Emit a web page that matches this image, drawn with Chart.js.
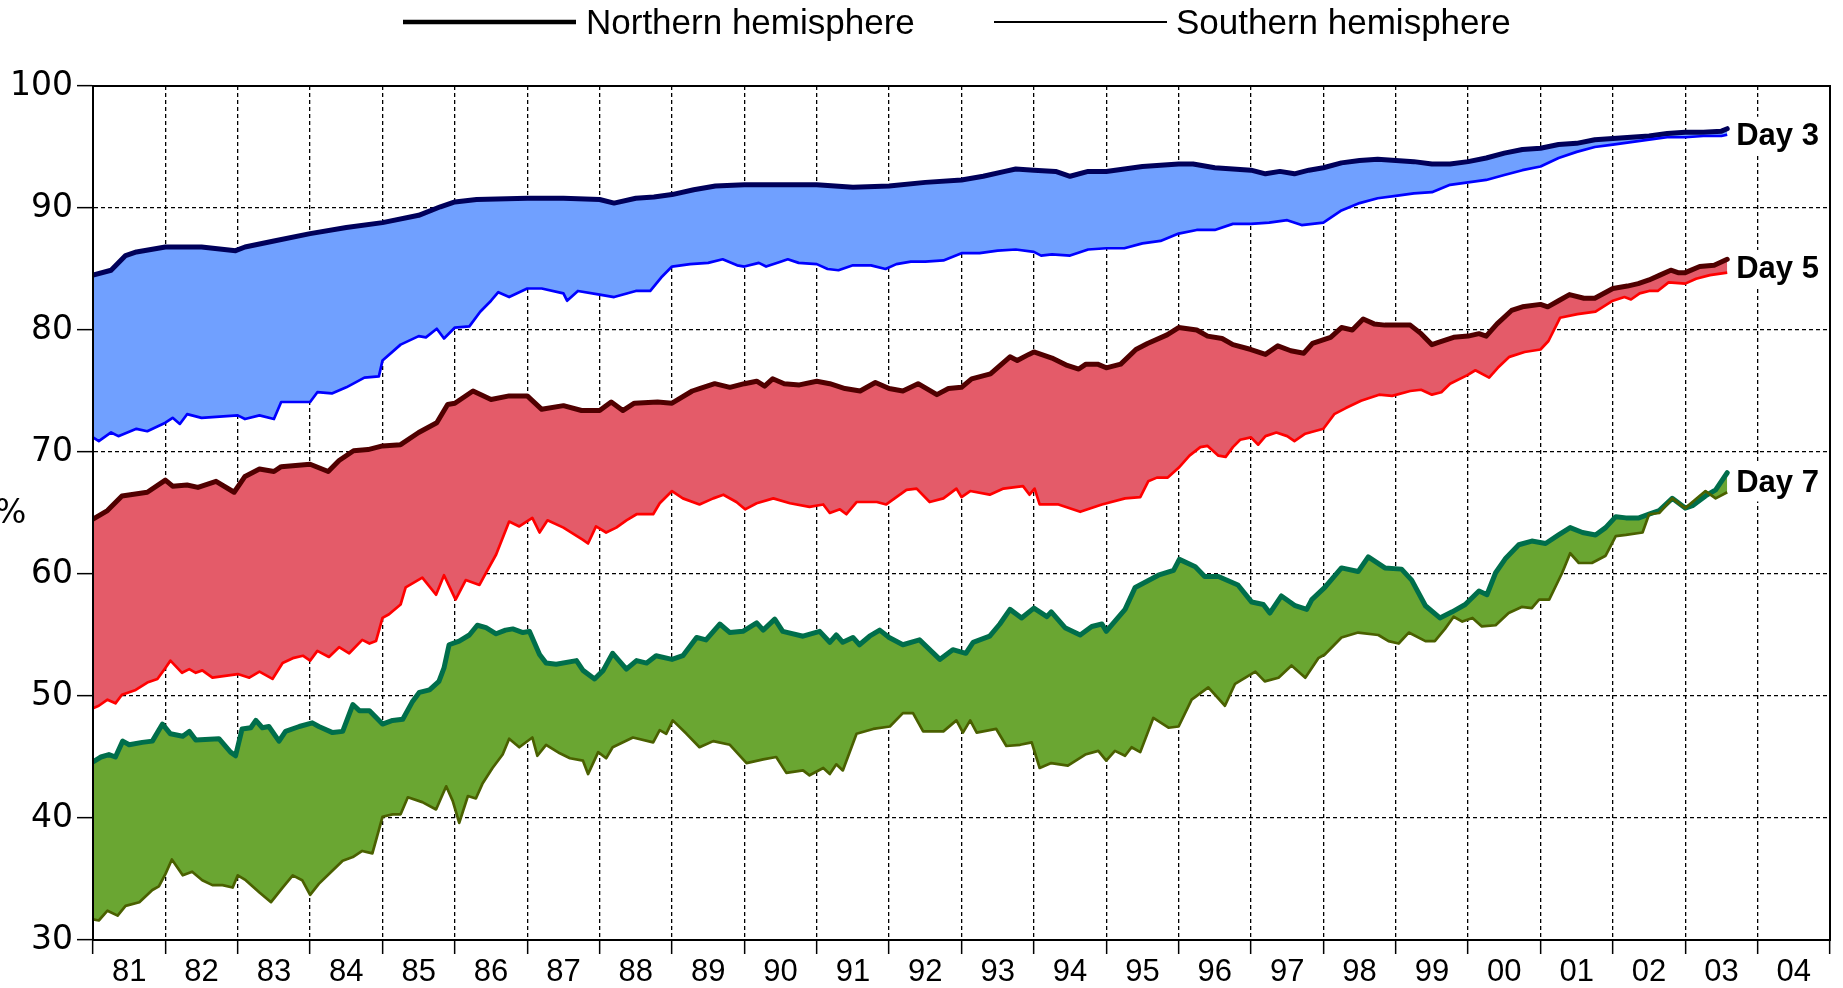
<!DOCTYPE html>
<html>
<head>
<meta charset="utf-8">
<script src="https://cdn.jsdelivr.net/npm/chart.js@4.4.1/dist/chart.umd.min.js"></script>
<style>
  html, body { margin: 0; padding: 0; background: #ffffff; overflow: hidden; }
  #wrap { position: relative; width: 1843px; height: 988px; }
</style>
</head>
<body>
<div id="wrap"><canvas id="c"></canvas></div>
<script>
// ---- data: [year (decimal), anomaly correlation %] ----
const xTickLabels = ['81','82','83','84','85','86','87','88','89','90','91','92','93','94','95','96','97','98','99','00','01','02','03','04'];
const yTicks = [30, 40, 50, 60, 70, 80, 90, 100];
const legendNames = ['Northern hemisphere', 'Southern hemisphere'];
const bandNames = ['Day 3', 'Day 5', 'Day 7'];

const day3North = [[1981.0,84.5],[1981.25,84.9],[1981.45,86.1],[1981.6,86.4],[1982.0,86.8],[1982.5,86.8],[1982.97,86.5],[1983.1,86.8],[1983.5,87.3],[1984.0,87.9],[1984.5,88.4],[1985.0,88.8],[1985.5,89.4],[1985.8,90.1],[1986.0,90.5],[1986.3,90.7],[1987.0,90.8],[1987.5,90.8],[1988.0,90.7],[1988.2,90.4],[1988.5,90.8],[1988.75,90.9],[1989.0,91.1],[1989.3,91.5],[1989.6,91.8],[1990.0,91.9],[1990.5,91.9],[1991.0,91.9],[1991.5,91.7],[1992.0,91.8],[1992.5,92.1],[1993.0,92.3],[1993.3,92.6],[1993.6,93.0],[1993.75,93.2],[1994.0,93.1],[1994.3,93.0],[1994.5,92.6],[1994.75,93.0],[1995.0,93.0],[1995.5,93.4],[1996.0,93.6],[1996.2,93.6],[1996.5,93.3],[1996.75,93.2],[1997.0,93.1],[1997.2,92.8],[1997.4,93.0],[1997.6,92.8],[1997.8,93.1],[1998.0,93.3],[1998.25,93.7],[1998.5,93.9],[1998.75,94.0],[1999.0,93.9],[1999.25,93.8],[1999.5,93.6],[1999.75,93.6],[2000.0,93.8],[2000.25,94.1],[2000.5,94.5],[2000.75,94.8],[2001.0,94.9],[2001.25,95.2],[2001.5,95.3],[2001.75,95.6],[2002.0,95.7],[2002.25,95.8],[2002.5,95.9],[2002.75,96.1],[2003.0,96.2],[2003.25,96.2],[2003.5,96.3],[2003.58,96.5]];

const day3South = [[1981.0,71.2],[1981.08,70.9],[1981.25,71.6],[1981.35,71.3],[1981.6,71.9],[1981.75,71.7],[1982.0,72.4],[1982.1,72.8],[1982.2,72.3],[1982.3,73.1],[1982.5,72.8],[1983.0,73.0],[1983.1,72.7],[1983.3,73.0],[1983.5,72.7],[1983.6,74.1],[1984.0,74.1],[1984.1,74.9],[1984.3,74.8],[1984.5,75.3],[1984.75,76.1],[1984.95,76.2],[1985.0,77.5],[1985.25,78.8],[1985.5,79.5],[1985.6,79.4],[1985.75,80.1],[1985.85,79.3],[1986.0,80.2],[1986.2,80.3],[1986.35,81.5],[1986.5,82.4],[1986.6,83.1],[1986.75,82.7],[1987.0,83.4],[1987.2,83.4],[1987.5,83.0],[1987.55,82.4],[1987.7,83.2],[1988.0,82.9],[1988.2,82.7],[1988.5,83.2],[1988.7,83.2],[1988.85,84.3],[1989.0,85.2],[1989.25,85.4],[1989.5,85.5],[1989.7,85.8],[1989.9,85.3],[1990.0,85.2],[1990.2,85.5],[1990.3,85.2],[1990.5,85.6],[1990.6,85.8],[1990.75,85.5],[1991.0,85.4],[1991.15,85.0],[1991.3,84.9],[1991.5,85.3],[1991.75,85.3],[1991.95,85.0],[1992.1,85.4],[1992.3,85.6],[1992.5,85.6],[1992.75,85.7],[1993.0,86.3],[1993.25,86.3],[1993.5,86.5],[1993.75,86.6],[1994.0,86.4],[1994.1,86.1],[1994.25,86.2],[1994.5,86.1],[1994.75,86.6],[1995.0,86.7],[1995.25,86.7],[1995.5,87.1],[1995.75,87.3],[1996.0,87.9],[1996.25,88.2],[1996.5,88.2],[1996.75,88.7],[1997.0,88.7],[1997.25,88.8],[1997.5,89.0],[1997.7,88.6],[1998.0,88.8],[1998.25,89.8],[1998.5,90.4],[1998.75,90.8],[1999.0,91.0],[1999.25,91.2],[1999.5,91.3],[1999.75,91.9],[2000.0,92.1],[2000.25,92.3],[2000.5,92.7],[2000.75,93.1],[2001.0,93.4],[2001.25,94.1],[2001.5,94.6],[2001.75,95.0],[2002.0,95.2],[2002.25,95.4],[2002.5,95.6],[2002.75,95.8],[2003.0,95.8],[2003.25,95.9],[2003.5,95.9],[2003.58,96.0]];

const day5North = [[1981.0,64.5],[1981.2,65.2],[1981.4,66.4],[1981.75,66.7],[1982.0,67.7],[1982.1,67.2],[1982.3,67.3],[1982.45,67.1],[1982.7,67.6],[1982.95,66.7],[1983.1,68.0],[1983.3,68.6],[1983.5,68.4],[1983.6,68.8],[1984.0,69.0],[1984.25,68.4],[1984.4,69.3],[1984.6,70.1],[1984.8,70.2],[1985.0,70.5],[1985.25,70.6],[1985.5,71.6],[1985.75,72.4],[1985.9,73.9],[1986.0,74.0],[1986.25,75.0],[1986.5,74.3],[1986.75,74.6],[1987.0,74.6],[1987.2,73.5],[1987.5,73.8],[1987.75,73.4],[1988.0,73.4],[1988.16,74.1],[1988.32,73.4],[1988.48,74.0],[1988.8,74.1],[1989.0,74.0],[1989.28,75.0],[1989.38,75.2],[1989.59,75.6],[1989.8,75.3],[1990.0,75.6],[1990.17,75.8],[1990.28,75.4],[1990.39,76.0],[1990.55,75.6],[1990.76,75.5],[1991.0,75.8],[1991.18,75.6],[1991.39,75.2],[1991.6,75.0],[1991.81,75.7],[1992.0,75.2],[1992.19,75.0],[1992.4,75.6],[1992.66,74.7],[1992.82,75.2],[1993.0,75.3],[1993.14,76.0],[1993.4,76.4],[1993.67,77.8],[1993.77,77.5],[1993.93,78.0],[1994.0,78.2],[1994.25,77.7],[1994.46,77.1],[1994.62,76.8],[1994.72,77.2],[1994.88,77.2],[1995.0,76.9],[1995.2,77.2],[1995.41,78.4],[1995.57,78.9],[1995.84,79.6],[1996.0,80.2],[1996.25,80.0],[1996.4,79.5],[1996.6,79.3],[1996.75,78.8],[1997.0,78.4],[1997.2,78.0],[1997.37,78.7],[1997.55,78.3],[1997.73,78.1],[1997.85,78.9],[1998.1,79.4],[1998.25,80.2],[1998.4,80.0],[1998.55,80.9],[1998.7,80.5],[1998.85,80.4],[1999.0,80.4],[1999.2,80.4],[1999.35,79.7],[1999.5,78.8],[1999.6,79.0],[1999.8,79.4],[2000.0,79.5],[2000.15,79.7],[2000.25,79.5],[2000.4,80.5],[2000.6,81.6],[2000.75,81.9],[2001.0,82.1],[2001.1,81.9],[2001.25,82.4],[2001.4,82.9],[2001.6,82.6],[2001.75,82.6],[2002.0,83.4],[2002.2,83.6],[2002.35,83.8],[2002.5,84.1],[2002.65,84.5],[2002.8,84.9],[2002.9,84.7],[2003.0,84.7],[2003.2,85.2],[2003.4,85.3],[2003.58,85.8]];

const day5South = [[1981.0,49.0],[1981.08,49.2],[1981.2,49.7],[1981.31,49.4],[1981.4,50.1],[1981.59,50.5],[1981.75,51.1],[1981.89,51.4],[1982.0,52.3],[1982.07,52.9],[1982.23,51.9],[1982.33,52.2],[1982.42,51.9],[1982.51,52.1],[1982.65,51.5],[1983.0,51.8],[1983.16,51.5],[1983.3,52.0],[1983.48,51.4],[1983.62,52.7],[1983.76,53.1],[1983.9,53.3],[1984.0,52.9],[1984.1,53.7],[1984.26,53.2],[1984.4,54.0],[1984.54,53.5],[1984.72,54.6],[1984.82,54.3],[1984.91,54.5],[1985.0,56.4],[1985.09,56.7],[1985.25,57.5],[1985.32,58.9],[1985.55,59.7],[1985.74,58.3],[1985.85,59.9],[1986.01,57.9],[1986.15,59.5],[1986.34,59.1],[1986.43,60.1],[1986.57,61.6],[1986.75,64.3],[1986.89,63.9],[1987.07,64.6],[1987.17,63.4],[1987.28,64.4],[1987.5,63.8],[1987.77,62.8],[1987.84,62.5],[1987.95,63.9],[1988.09,63.4],[1988.23,63.8],[1988.37,64.4],[1988.51,64.9],[1988.74,64.9],[1988.83,65.8],[1989.0,66.8],[1989.15,66.2],[1989.38,65.7],[1989.57,66.2],[1989.71,66.5],[1989.89,65.9],[1990.01,65.3],[1990.17,65.8],[1990.4,66.2],[1990.63,65.8],[1990.9,65.5],[1991.09,65.7],[1991.18,65.0],[1991.32,65.3],[1991.41,64.9],[1991.55,65.9],[1991.83,65.9],[1991.96,65.7],[1992.24,66.9],[1992.38,67.0],[1992.56,65.9],[1992.75,66.2],[1992.93,67.0],[1993.0,66.3],[1993.12,66.8],[1993.39,66.5],[1993.58,67.0],[1993.85,67.2],[1993.94,66.5],[1994.01,67.0],[1994.08,65.7],[1994.34,65.7],[1994.64,65.1],[1994.94,65.7],[1995.26,66.2],[1995.47,66.3],[1995.58,67.6],[1995.7,67.9],[1995.85,67.9],[1996.0,68.7],[1996.15,69.7],[1996.3,70.4],[1996.4,70.5],[1996.55,69.7],[1996.65,69.6],[1996.75,70.4],[1996.85,71.0],[1997.0,71.2],[1997.1,70.6],[1997.2,71.3],[1997.35,71.6],[1997.5,71.3],[1997.6,70.9],[1997.75,71.5],[1998.0,71.9],[1998.15,73.1],[1998.31,73.6],[1998.52,74.2],[1998.77,74.7],[1998.95,74.6],[1999.2,75.0],[1999.35,75.1],[1999.5,74.7],[1999.63,74.9],[1999.75,75.6],[1999.99,76.3],[2000.1,76.7],[2000.29,76.1],[2000.41,76.9],[2000.57,77.8],[2000.78,78.2],[2001.0,78.4],[2001.11,79.1],[2001.27,81.0],[2001.51,81.3],[2001.76,81.5],[2002.0,82.4],[2002.16,82.7],[2002.25,82.5],[2002.37,83.0],[2002.5,83.2],[2002.62,83.2],[2002.77,83.9],[2003.0,83.8],[2003.15,84.2],[2003.34,84.5],[2003.58,84.7]];

const day7North = [[1981.0,44.6],[1981.11,45.0],[1981.22,45.2],[1981.31,45.0],[1981.41,46.3],[1981.5,46.0],[1981.68,46.2],[1981.82,46.3],[1981.96,47.7],[1982.07,46.9],[1982.24,46.7],[1982.33,47.1],[1982.42,46.4],[1982.74,46.5],[1982.9,45.4],[1982.97,45.1],[1983.06,47.3],[1983.18,47.4],[1983.25,48.0],[1983.34,47.4],[1983.43,47.5],[1983.57,46.3],[1983.66,47.1],[1983.85,47.5],[1984.03,47.8],[1984.12,47.5],[1984.31,47.0],[1984.45,47.1],[1984.59,49.3],[1984.68,48.8],[1984.82,48.8],[1985.0,47.7],[1985.14,48.0],[1985.28,48.1],[1985.41,49.5],[1985.51,50.3],[1985.65,50.5],[1985.78,51.2],[1985.85,52.3],[1985.92,54.2],[1986.06,54.5],[1986.2,55.0],[1986.31,55.8],[1986.43,55.6],[1986.57,55.1],[1986.7,55.4],[1986.8,55.5],[1986.94,55.2],[1987.03,55.3],[1987.17,53.4],[1987.26,52.7],[1987.4,52.6],[1987.68,52.9],[1987.77,52.1],[1987.93,51.4],[1988.05,52.1],[1988.18,53.5],[1988.37,52.2],[1988.51,52.9],[1988.65,52.7],[1988.78,53.3],[1989.0,53.0],[1989.15,53.3],[1989.34,54.8],[1989.47,54.6],[1989.66,55.9],[1989.8,55.2],[1989.98,55.3],[1990.17,56.0],[1990.26,55.4],[1990.42,56.3],[1990.53,55.3],[1990.81,54.9],[1991.04,55.3],[1991.18,54.4],[1991.27,55.0],[1991.36,54.4],[1991.5,54.8],[1991.59,54.2],[1991.73,54.9],[1991.87,55.4],[1992.0,54.8],[1992.19,54.2],[1992.42,54.6],[1992.7,53.0],[1992.88,53.8],[1993.06,53.5],[1993.16,54.4],[1993.39,54.9],[1993.53,55.9],[1993.67,57.1],[1993.83,56.4],[1994.0,57.2],[1994.18,56.5],[1994.24,56.9],[1994.43,55.6],[1994.64,55.0],[1994.8,55.7],[1994.94,55.9],[1995.0,55.3],[1995.26,57.1],[1995.4,58.9],[1995.72,59.9],[1995.93,60.3],[1996.01,61.2],[1996.23,60.6],[1996.36,59.8],[1996.55,59.8],[1996.82,59.1],[1997.01,57.7],[1997.17,57.5],[1997.26,56.8],[1997.42,58.2],[1997.61,57.4],[1997.77,57.1],[1997.84,57.9],[1998.02,58.9],[1998.25,60.5],[1998.48,60.2],[1998.62,61.4],[1998.85,60.5],[1999.08,60.4],[1999.22,59.5],[1999.41,57.4],[1999.61,56.4],[1999.78,56.9],[1999.96,57.5],[2000.15,58.6],[2000.26,58.3],[2000.38,60.1],[2000.52,61.3],[2000.7,62.4],[2000.88,62.7],[2001.07,62.5],[2001.25,63.2],[2001.41,63.8],[2001.58,63.4],[2001.76,63.2],[2001.9,63.8],[2002.04,64.7],[2002.18,64.6],[2002.36,64.6],[2002.5,64.9],[2002.64,65.2],[2002.82,66.2],[2003.0,65.4],[2003.1,65.6],[2003.28,66.4],[2003.42,66.9],[2003.58,68.3]];

const day7South = [[1981.0,31.7],[1981.08,31.6],[1981.2,32.4],[1981.34,32.0],[1981.45,32.8],[1981.64,33.1],[1981.82,34.1],[1981.91,34.4],[1982.0,35.4],[1982.09,36.6],[1982.24,35.3],[1982.37,35.6],[1982.51,34.9],[1982.65,34.5],[1982.79,34.5],[1982.93,34.3],[1983.0,35.3],[1983.11,34.9],[1983.3,33.9],[1983.46,33.1],[1983.62,34.3],[1983.76,35.3],[1983.89,34.9],[1984.0,33.7],[1984.12,34.6],[1984.31,35.7],[1984.45,36.5],[1984.59,36.8],[1984.72,37.3],[1984.86,37.1],[1985.0,40.1],[1985.14,40.3],[1985.25,40.3],[1985.35,41.7],[1985.55,41.3],[1985.74,40.7],[1985.88,42.6],[1985.97,41.4],[1986.06,39.6],[1986.18,41.8],[1986.29,41.6],[1986.38,42.8],[1986.52,44.1],[1986.66,45.2],[1986.75,46.5],[1986.89,45.8],[1987.07,46.6],[1987.14,45.1],[1987.26,46.0],[1987.45,45.3],[1987.59,44.9],[1987.77,44.7],[1987.84,43.6],[1987.98,45.4],[1988.09,44.9],[1988.18,45.8],[1988.46,46.6],[1988.74,46.2],[1988.83,47.2],[1988.92,46.9],[1989.01,48.0],[1989.2,46.9],[1989.38,45.8],[1989.57,46.3],[1989.8,46.0],[1990.03,44.5],[1990.26,44.8],[1990.44,45.0],[1990.58,43.7],[1990.81,43.9],[1990.9,43.5],[1991.09,44.1],[1991.18,43.6],[1991.27,44.4],[1991.36,43.9],[1991.55,46.9],[1991.78,47.3],[1992.01,47.5],[1992.19,48.6],[1992.33,48.6],[1992.47,47.1],[1992.75,47.1],[1992.93,48.0],[1993.02,47.0],[1993.12,48.0],[1993.21,47.0],[1993.48,47.3],[1993.62,45.9],[1993.81,46.0],[1993.97,46.2],[1994.08,44.1],[1994.24,44.5],[1994.47,44.3],[1994.71,45.2],[1994.89,45.5],[1995.0,44.7],[1995.12,45.5],[1995.26,45.1],[1995.35,45.8],[1995.47,45.4],[1995.65,48.2],[1995.86,47.4],[1996.0,47.5],[1996.18,49.7],[1996.41,50.7],[1996.64,49.2],[1996.78,51.0],[1997.06,52.0],[1997.19,51.2],[1997.38,51.5],[1997.56,52.5],[1997.75,51.5],[1997.93,53.1],[1998.02,53.4],[1998.25,54.8],[1998.48,55.2],[1998.76,55.0],[1998.9,54.5],[1999.04,54.3],[1999.18,55.2],[1999.41,54.5],[1999.54,54.5],[1999.68,55.5],[1999.8,56.5],[1999.92,56.1],[2000.06,56.4],[2000.19,55.7],[2000.38,55.8],[2000.56,56.8],[2000.74,57.3],[2000.88,57.2],[2000.98,57.9],[2001.12,57.9],[2001.3,60.1],[2001.41,61.7],[2001.53,60.9],[2001.71,60.9],[2001.9,61.5],[2002.04,63.1],[2002.18,63.2],[2002.41,63.4],[2002.5,64.9],[2002.64,65.0],[2002.82,66.2],[2003.0,65.4],[2003.14,66.1],[2003.28,66.8],[2003.42,66.2],[2003.58,66.7]];

// ---- build chart ----
const toXY = arr => arr.map(p => ({x: p[0], y: p[1]}));

const bands = [
  {north: day3North, south: day3South, nColor: '#00005a', sColor: '#0000ff', fillColor: '#70a0ff', labelShift: 4},
  {north: day5North, south: day5South, nColor: '#500000', sColor: '#ff0000', fillColor: '#e45b69', labelShift: 3},
  {north: day7North, south: day7South, nColor: '#006e4b', sColor: '#4a6000', fillColor: '#6aa632', labelShift: 0}
];

const datasets = [];
bands.forEach((b, i) => {
  datasets.push({
    label: bandNames[i] + ' ' + legendNames[0],
    data: toXY(b.north),
    borderColor: b.nColor,
    borderWidth: 5,
    backgroundColor: b.fillColor,
    fill: '+1',
    pointRadius: 0,
    tension: 0,
    borderJoinStyle: 'round',
    borderCapStyle: 'round',
    order: 1
  });
  datasets.push({
    label: bandNames[i] + ' ' + legendNames[1],
    data: toXY(b.south),
    borderColor: b.sColor,
    borderWidth: 2.7,
    backgroundColor: b.fillColor,
    fill: false,
    pointRadius: 0,
    tension: 0,
    borderJoinStyle: 'round',
    order: 0
  });
});

const decorPlugin = {
  id: 'decor',
  afterDatasetsDraw(chart) {
    const ctx = chart.ctx;
    const xs = chart.scales.x, ys = chart.scales.y;
    ctx.save();
    ctx.font = 'bold 31px "Liberation Sans", Arial, sans-serif';
    ctx.textBaseline = 'middle';
    ctx.textAlign = 'left';
    bands.forEach((b, i) => {
      const ln = b.north[b.north.length - 1];
      const ls = b.south[b.south.length - 1];
      const px = xs.getPixelForValue(Math.max(ln[0], ls[0])) + 9;
      const py = (ys.getPixelForValue(ln[1]) + ys.getPixelForValue(ls[1])) / 2 + b.labelShift;
      const w = ctx.measureText(bandNames[i]).width;
      ctx.fillStyle = '#ffffff';
      ctx.fillRect(px - 2, py - 19, w + 6, 38);
      ctx.fillStyle = '#000000';
      ctx.fillText(bandNames[i], px, py + 1);
    });
    ctx.restore();
  },
  afterDraw(chart) {
    const ctx = chart.ctx;
    const a = chart.chartArea;
    ctx.save();
    // frame
    ctx.strokeStyle = '#000';
    ctx.lineWidth = 2;
    ctx.strokeRect(a.left, a.top, a.right - a.left, a.bottom - a.top);
    // y unit
    ctx.fillStyle = '#000';
    ctx.font = '33px "DejaVu Sans", sans-serif';
    ctx.textBaseline = 'middle';
    ctx.textAlign = 'left';
    ctx.fillText('%', -5, 514);
    // legend
    ctx.font = '35px "Liberation Sans", Arial, sans-serif';
    const items = [
      {x0: 403, x1: 576, tx: 586, w: 4.5, text: legendNames[0]},
      {x0: 994, x1: 1167, tx: 1176, w: 2.2, text: legendNames[1]}
    ];
    items.forEach(it => {
      ctx.beginPath();
      ctx.lineWidth = it.w;
      ctx.strokeStyle = '#000';
      ctx.moveTo(it.x0, 22);
      ctx.lineTo(it.x1, 22);
      ctx.stroke();
      ctx.fillText(it.text, it.tx, 24);
    });
    ctx.restore();
  }
};

new Chart(document.getElementById('c'), {
  type: 'line',
  data: { datasets },
  options: {
    responsive: true,
    maintainAspectRatio: false,
    animation: false,
    events: [],
    devicePixelRatio: 1,
    layout: { padding: { top: 86, right: 13, left: 0, bottom: 0 } },
    plugins: {
      legend: { display: false },
      tooltip: { enabled: false },
      filler: { drawTime: 'beforeDatasetsDraw' }
    },
    scales: {
      x: {
        type: 'linear',
        min: 1981,
        max: 2005,
        afterFit(scale) { scale.height = 48; },
        afterBuildTicks(scale) {
          scale.ticks = [];
          for (let i = 0; i <= xTickLabels.length; i++) scale.ticks.push({value: 1981 + i});
        },
        ticks: {
          autoSkip: false,
          maxRotation: 0,
          minRotation: 0,
          padding: 0,
          labelOffset: 36.2,
          color: '#000',
          font: { family: '"Liberation Sans", Arial, sans-serif', size: 31 },
          callback: (v, i) => (i < xTickLabels.length ? xTickLabels[i] : '')
        },
        grid: {
          color: '#000',
          lineWidth: 1.3,
          drawTicks: true,
          tickLength: 14,
          tickColor: '#000',
          tickWidth: 1.5,
          tickBorderDash: [],
          borderDash: [4, 3]
        },
        border: { display: true, color: '#000', width: 2, dash: [4, 3] }
      },
      y: {
        type: 'linear',
        min: 30,
        max: 100,
        afterFit(scale) { scale.width = 93; },
        afterBuildTicks(scale) { scale.ticks = yTicks.map(v => ({value: v})); },
        ticks: {
          padding: 4,
          color: '#000',
          font: { family: '"DejaVu Sans", sans-serif', size: 33 },
          callback: v => String(v)
        },
        grid: {
          color: '#000',
          lineWidth: 1.3,
          drawTicks: true,
          tickLength: 16,
          tickColor: '#000',
          tickWidth: 1.5,
          tickBorderDash: [],
          borderDash: [4, 3]
        },
        border: { display: true, color: '#000', width: 2, dash: [4, 3] }
      }
    }
  },
  plugins: [decorPlugin]
});
</script>
</body>
</html>
